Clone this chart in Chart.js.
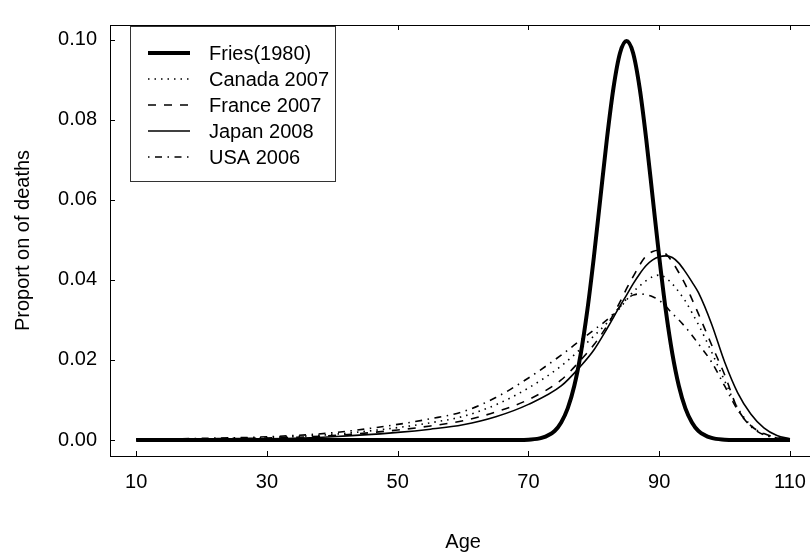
<!DOCTYPE html>
<html>
<head>
<meta charset="utf-8">
<script src="https://cdn.jsdelivr.net/npm/chart.js@4.4.1/dist/chart.umd.min.js"></script>
<style>
  html, body { margin: 0; padding: 0; background: #fff; overflow: hidden; }
  #wrap { position: relative; width: 820px; height: 554px; }
</style>
</head>
<body>
<div id="wrap"><canvas id="deaths"></canvas></div>
<script>
// Fries (1980) rectangularised distribution
const friesAge = [10, 20, 30, 40, 50, 60, 66, 68, 70, 72, 74, 75, 76, 77, 78, 79, 80, 81, 82, 83, 84,
  85, 86, 87, 88, 89, 90, 91, 92, 93, 94, 95, 96, 98, 100, 102, 104, 110];
const friesVal = [0, 0, 0, 0, 0, 0, 0, 0.00001, 0.00009, 0.00051, 0.00227, 0.0044, 0.0079, 0.0135, 0.0216,
  0.0324, 0.0457, 0.0605, 0.0753, 0.0880, 0.0967, 0.0997, 0.0967, 0.0880, 0.0753, 0.0605, 0.0457,
  0.0324, 0.0216, 0.0135, 0.0079, 0.0044, 0.00227, 0.00051, 0.00009, 0.00001, 0, 0];

// observed life-table distributions
const ages = [10, 20, 30, 40, 50, 55, 60, 65, 70, 75, 78, 80, 82, 84, 85, 86, 87, 88, 89, 90, 91, 92,
  93, 94, 95, 96, 98, 100, 102, 104, 106, 108, 110];
const canada = [0.0001, 0.0003, 0.0006, 0.0014, 0.0031, 0.0043, 0.0059, 0.0088, 0.0130, 0.0185, 0.0228,
  0.0260, 0.0292, 0.0330, 0.0350, 0.0370, 0.0385, 0.0398, 0.0408, 0.0412, 0.0405, 0.0390, 0.0370,
  0.0347, 0.0318, 0.0288, 0.0220, 0.0148, 0.0080, 0.0037, 0.0015, 0.0005, 0.0002];
const france = [0.0001, 0.0003, 0.0005, 0.0011, 0.0025, 0.0035, 0.0048, 0.0070, 0.0101, 0.0150, 0.0200,
  0.0238, 0.0285, 0.0345, 0.0378, 0.0408, 0.0437, 0.0460, 0.0471, 0.0474, 0.0465, 0.0445, 0.0418,
  0.0388, 0.0352, 0.0315, 0.0238, 0.0163, 0.0078, 0.0036, 0.0016, 0.0006, 0.0002];
const japan = [0.0001, 0.0002, 0.0003, 0.0008, 0.0019, 0.0027, 0.0038, 0.0058, 0.0089, 0.0135, 0.0185,
  0.0225, 0.0278, 0.0335, 0.0362, 0.0390, 0.0415, 0.0436, 0.0450, 0.0458, 0.0460, 0.0456, 0.0442,
  0.0420, 0.0395, 0.0368, 0.0290, 0.0195, 0.0118, 0.0065, 0.0030, 0.0011, 0.0003];
const usa = [0.0002, 0.0004, 0.0008, 0.0018, 0.0039, 0.0053, 0.0071, 0.0106, 0.0155, 0.0212, 0.0250,
  0.0275, 0.0300, 0.0333, 0.0352, 0.0362, 0.0365, 0.0363, 0.0358, 0.0349, 0.0334, 0.0316, 0.0300,
  0.0282, 0.0262, 0.0240, 0.0195, 0.0135, 0.0075, 0.0034, 0.0013, 0.0005, 0.0002];

const seriesNames = ['Fries(1980)', 'Canada 2007', 'France 2007', 'Japan 2008', 'USA 2006'];
const xTicks = [10, 30, 50, 70, 90, 110];
const yTicks = [0, 0.02, 0.04, 0.06, 0.08, 0.10];

const FONT = { family: '"Liberation Sans", Arial, sans-serif', size: 20 };
const INK = '#000';

function pts(xs, ys) {
  return xs.map((a, i) => ({ x: a, y: ys[i] }));
}

function line(label, data, width, dash) {
  return {
    label: label,
    data: data,
    borderColor: INK,
    borderWidth: width,
    borderDash: dash,
    pointRadius: 0,
    cubicInterpolationMode: 'monotone',
    fill: false
  };
}

// box, inward ticks and the framed legend
const frame = {
  id: 'frame',
  afterDraw(chart) {
    const { ctx, chartArea: a, scales: { x, y } } = chart;
    ctx.save();
    ctx.strokeStyle = INK;
    ctx.lineWidth = 1;
    ctx.setLineDash([]);
    ctx.strokeRect(a.left + 0.5, a.top + 0.5, a.right - a.left - 1, a.bottom - a.top);
    ctx.beginPath();
    xTicks.forEach(v => {
      const px = Math.round(x.getPixelForValue(v)) + 0.5;
      ctx.moveTo(px, a.bottom); ctx.lineTo(px, a.bottom - 5);
      ctx.moveTo(px, a.top); ctx.lineTo(px, a.top + 5);
    });
    yTicks.forEach(v => {
      const py = Math.round(y.getPixelForValue(v)) + 0.5;
      ctx.moveTo(a.left, py); ctx.lineTo(a.left + 5, py);
    });
    ctx.stroke();

    // legend
    const lx = 130.5, ly = 26.5, lw = 205, lh = 155;
    ctx.fillStyle = '#fff';
    ctx.fillRect(lx, ly, lw, lh);
    ctx.strokeStyle = '#333';
    ctx.strokeRect(lx, ly, lw, lh);
    ctx.font = FONT.size + 'px ' + FONT.family;
    ctx.textBaseline = 'middle';
    ctx.textAlign = 'left';
    chart.data.datasets.forEach((ds, i) => {
      const ry = 53 + i * 26;
      ctx.beginPath();
      ctx.strokeStyle = INK;
      ctx.lineWidth = ds.borderWidth;
      ctx.setLineDash(ds.borderDash || []);
      ctx.moveTo(148, ry);
      ctx.lineTo(190, ry);
      ctx.stroke();
      ctx.fillStyle = INK;
      ctx.fillText(ds.label, 209, ry + 1);
    });
    ctx.restore();
  }
};

new Chart(document.getElementById('deaths'), {
  type: 'line',
  data: {
    datasets: [
      line(seriesNames[0], pts(friesAge, friesVal), 4, []),
      line(seriesNames[1], pts(ages, canada), 1.6, [1.5, 5]),
      line(seriesNames[2], pts(ages, france), 1.6, [8, 8]),
      line(seriesNames[3], pts(ages, japan), 1.6, []),
      line(seriesNames[4], pts(ages, usa), 1.6, [1.5, 5.5, 7, 5.5])
    ]
  },
  options: {
    responsive: true,
    maintainAspectRatio: false,
    animation: false,
    layout: { padding: { top: 13, right: 1, left: 0, bottom: 0 } },
    plugins: { legend: { display: false }, tooltip: { enabled: false } },
    scales: {
      x: {
        type: 'linear',
        min: 6,
        max: 114,
        grid: { display: false, drawTicks: false },
        border: { display: false },
        afterBuildTicks: axis => { axis.ticks = xTicks.map(v => ({ value: v })); },
        afterFit: axis => { axis.height = 98; },
        ticks: { color: INK, font: FONT, padding: 14, maxRotation: 0 },
        title: { display: true, text: 'Age', color: INK, font: FONT, padding: { top: 0, bottom: 0 } }
      },
      y: {
        type: 'linear',
        min: -0.004,
        max: 0.1037,
        grid: { display: false, drawTicks: false },
        border: { display: false },
        afterBuildTicks: axis => { axis.ticks = yTicks.map(v => ({ value: v })); },
        afterFit: axis => { axis.width = 110; },
        ticks: { color: INK, font: FONT, padding: 13, callback: v => v.toFixed(2) },
        title: { display: true, text: 'Proport on of deaths', color: INK, font: FONT, padding: { top: 11, bottom: 0 } }
      }
    }
  },
  plugins: [frame]
});
</script>
</body>
</html>
